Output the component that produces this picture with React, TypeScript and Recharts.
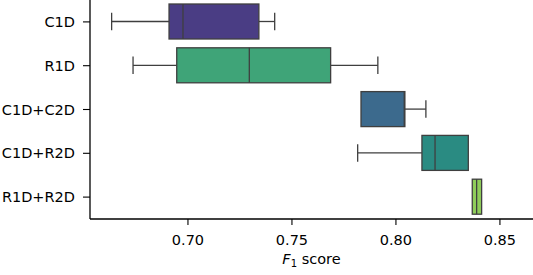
import React from "react";
import { BarChart, Bar, XAxis, YAxis, Cell } from "recharts";

const categories = ["C1D", "R1D", "C1D+C2D", "C1D+R2D", "R1D+R2D"];
const mins = [0.6633, 0.6736, 0.7832, 0.7816, 0.8367];
const q1s = [0.6909, 0.6946, 0.7832, 0.8125, 0.8367];
const medians = [0.6976, 0.7295, 0.804, 0.8188, 0.8388];
const q3s = [0.7341, 0.7686, 0.8043, 0.8348, 0.8412];
const maxs = [0.7417, 0.7913, 0.8144, 0.835, 0.8412];
const colors = ["#4a3d84", "#3fa478", "#3c6a8d", "#2a8b82", "#8fcd5a"];
const xTicks = [0.7, 0.75, 0.8, 0.85];

const data = categories.map((name, i) => ({
  name,
  range: [mins[i], maxs[i]],
  min: mins[i],
  q1: q1s[i],
  median: medians[i],
  q3: q3s[i],
  max: maxs[i],
}));

const FONT = "DejaVu Sans";
const EDGE = "#3f3f3f";

const BoxShape = (props: any) => {
  const { x, y, width, height, payload, fill } = props;
  const lo = payload.min;
  const hi = payload.max;
  const px = (v: number) => x + ((v - lo) / (hi - lo)) * width;
  const cy = y + height / 2;
  const capH = height / 2;
  const xMin = px(payload.min);
  const xQ1 = px(payload.q1);
  const xMed = px(payload.median);
  const xQ3 = px(payload.q3);
  const xMax = px(payload.max);
  return (
    <g>
      {xQ1 > xMin + 0.5 && (
        <>
          <line x1={xMin} x2={xQ1} y1={cy} y2={cy} stroke={EDGE} strokeWidth={1.3} />
          <line x1={xMin} x2={xMin} y1={cy - capH / 2} y2={cy + capH / 2} stroke={EDGE} strokeWidth={1.3} />
        </>
      )}
      {xMax > xQ3 + 0.5 && (
        <>
          <line x1={xQ3} x2={xMax} y1={cy} y2={cy} stroke={EDGE} strokeWidth={1.3} />
          <line x1={xMax} x2={xMax} y1={cy - capH / 2} y2={cy + capH / 2} stroke={EDGE} strokeWidth={1.3} />
        </>
      )}
      <rect x={xQ1} y={y} width={Math.max(xQ3 - xQ1, 0.5)} height={height} fill={fill} stroke={EDGE} strokeWidth={1.3} />
      <line x1={xMed} x2={xMed} y1={y} y2={y + height} stroke={EDGE} strokeWidth={1.3} />
    </g>
  );
};

const XLabel = (props: any) => {
  const vb = props.viewBox || {};
  const cx = vb.x + vb.width / 2;
  return (
    <text x={cx} y={264} textAnchor="middle" fontFamily={FONT} fontSize={14.5} fill="#000">
      <tspan fontStyle="italic">F</tspan>
      <tspan fontSize={10} dy={2.5}>1</tspan>
      <tspan dy={-2.5}> score</tspan>
    </text>
  );
};

export default function App() {
  return (
    <div style={{ position: "absolute", left: 0, top: 0, background: "#fff" }}>
      <BarChart
        width={533}
        height={275}
        data={data}
        layout="vertical"
        margin={{ top: 0, right: 0, bottom: 0, left: 0 }}
        style={{ fontFamily: FONT }}
      >
        <XAxis
          type="number"
          domain={[0.6529, 0.8659]}
          allowDataOverflow
          ticks={xTicks}
          tickFormatter={(v: number) => v.toFixed(2)}
          height={56}
          tickSize={6}
          tickMargin={10}
          axisLine={{ stroke: "#000", strokeWidth: 1.3 }}
          tickLine={{ stroke: "#000", strokeWidth: 1.1 }}
          tick={{ fill: "#000", fontSize: 14.5, fontFamily: FONT }}
          label={<XLabel />}
        />
        <YAxis
          type="category"
          dataKey="name"
          width={90}
          tickSize={7}
          tickMargin={8}
          axisLine={{ stroke: "#000", strokeWidth: 1.3 }}
          tickLine={{ stroke: "#000", strokeWidth: 1.1 }}
          tick={{ fill: "#000", fontSize: 14.5, fontFamily: FONT }}
        />
        <Bar dataKey="range" barSize={35} isAnimationActive={false} shape={<BoxShape />}>
          {data.map((d, i) => (
            <Cell key={d.name} fill={colors[i]} />
          ))}
        </Bar>
      </BarChart>
    </div>
  );
}
